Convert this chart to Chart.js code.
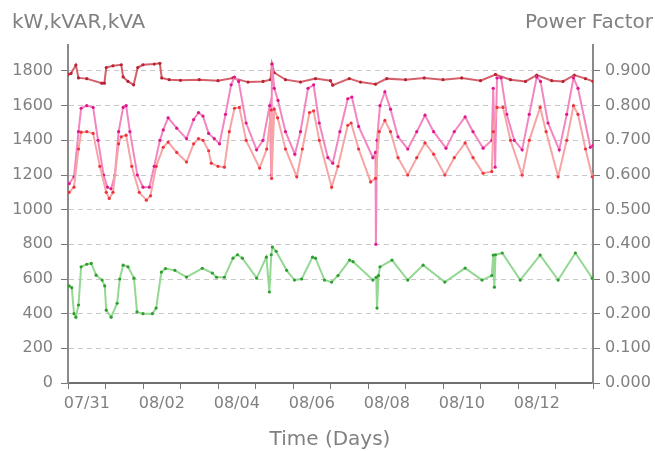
<!DOCTYPE html>
<html>
<head>
<meta charset="utf-8">
<title>Power chart</title>
<script src="https://cdn.jsdelivr.net/npm/chart.js@4/dist/chart.umd.min.js"></script>
<style>
  body { margin: 0; background: #fff; }
  #wrap { position: relative; width: 655px; height: 451px; }
  .ttl {
    position: absolute;
    font-family: "DejaVu Sans", sans-serif;
    font-size: 20px;
    line-height: 20px;
    color: #808080;
    white-space: nowrap;
  }
</style>
</head>
<body>
<div id="wrap">
  <canvas id="powerChart" width="655" height="451"></canvas>
  <div class="ttl" style="left:12px;top:11px">kW,kVAR,kVA</div>
  <div class="ttl" style="right:2px;top:11px">Power Factor</div>
  <div class="ttl" style="left:230px;width:200px;text-align:center;top:428px">Time (Days)</div>
</div>
<script>
"use strict";

// x values are days since 07/31 00:00
let dayLabels = ["07/31", "08/02", "08/04", "08/06", "08/08", "08/10", "08/12"];

let kvaDays = [0.03, 0.16, 0.28, 0.35, 0.5, 0.67, 0.8, 0.95, 1.05, 1.15, 1.25, 1.35, 1.47, 1.55, 1.65, 1.85, 2.0, 2.17, 2.3, 2.45, 2.54, 2.67, 2.9, 3.16, 3.35, 3.48, 3.6, 3.75, 3.9, 4.04, 4.2, 4.35, 4.44, 4.55, 4.75, 5.03, 5.2, 5.38, 5.42, 5.44, 5.5, 5.6, 5.8, 6.05, 6.2, 6.4, 6.55, 6.7, 6.93, 7.06, 7.25, 7.46, 7.57, 7.75, 8.13, 8.2, 8.21, 8.24, 8.32, 8.45, 8.6, 8.8, 9.06, 9.3, 9.52, 9.75, 10.08, 10.3, 10.59, 10.8, 11.07, 11.3, 11.34, 11.39, 11.44, 11.55, 11.7, 11.9, 12.11, 12.3, 12.5, 12.6, 12.8, 13.1, 13.3, 13.48, 13.6, 13.93, 14.0];
let kvaValues = [1150, 1190, 1450, 1585, 1600, 1590, 1400, 1200, 1130, 1120, 1200, 1450, 1590, 1600, 1450, 1200, 1130, 1130, 1250, 1400, 1460, 1530, 1470, 1410, 1520, 1560, 1540, 1440, 1410, 1380, 1550, 1720, 1765, 1740, 1500, 1345, 1400, 1600, 1200, 1840, 1700, 1630, 1450, 1320, 1450, 1700, 1720, 1500, 1300, 1268, 1450, 1640, 1650, 1480, 1300, 1330, 800, 1400, 1600, 1680, 1580, 1420, 1350, 1450, 1545, 1450, 1355, 1450, 1535, 1450, 1355, 1400, 1700, 1245, 1760, 1760, 1550, 1400, 1345, 1550, 1765, 1740, 1500, 1345, 1550, 1760, 1700, 1360, 1370];

let kwDays = [0.03, 0.16, 0.28, 0.35, 0.5, 0.67, 0.85, 1.02, 1.1, 1.2, 1.35, 1.42, 1.55, 1.7, 1.9, 2.09, 2.2, 2.35, 2.54, 2.67, 2.9, 3.16, 3.35, 3.48, 3.6, 3.75, 3.82, 4.0, 4.17, 4.3, 4.44, 4.57, 4.75, 5.11, 5.3, 5.42, 5.43, 5.5, 5.59, 5.8, 6.1, 6.25, 6.44, 6.55, 6.7, 7.03, 7.2, 7.46, 7.55, 7.75, 8.07, 8.2, 8.3, 8.45, 8.6, 8.8, 9.06, 9.3, 9.52, 9.75, 10.05, 10.3, 10.59, 10.8, 11.07, 11.3, 11.34, 11.44, 11.6, 11.8, 12.11, 12.3, 12.59, 12.75, 13.07, 13.3, 13.48, 13.6, 13.8, 13.98];
let kwValues = [1100, 1130, 1350, 1447, 1450, 1440, 1250, 1100, 1065, 1100, 1380, 1420, 1430, 1250, 1100, 1055, 1080, 1250, 1360, 1390, 1330, 1275, 1380, 1410, 1400, 1340, 1268, 1250, 1245, 1450, 1585, 1590, 1400, 1240, 1350, 1575, 1180, 1580, 1530, 1350, 1190, 1350, 1560, 1570, 1400, 1130, 1250, 1487, 1500, 1350, 1160, 1180, 1450, 1515, 1450, 1300, 1200, 1300, 1385, 1320, 1200, 1300, 1385, 1300, 1210, 1220, 1450, 1590, 1590, 1400, 1200, 1400, 1590, 1450, 1190, 1400, 1600, 1550, 1350, 1190];

let kvarDays = [0.03, 0.1, 0.16, 0.21, 0.28, 0.35, 0.5, 0.62, 0.75, 0.91, 0.98, 1.02, 1.15, 1.31, 1.38, 1.47, 1.6, 1.76, 1.84, 2.0, 2.25, 2.35, 2.49, 2.6, 2.85, 3.16, 3.58, 3.85, 3.96, 4.17, 4.4, 4.52, 4.65, 5.03, 5.29, 5.37, 5.42, 5.45, 5.55, 5.83, 6.04, 6.23, 6.52, 6.6, 6.84, 7.03, 7.2, 7.51, 7.6, 8.13, 8.22, 8.24, 8.28, 8.32, 8.64, 9.06, 9.47, 10.05, 10.59, 11.04, 11.3, 11.34, 11.37, 11.4, 11.58, 12.06, 12.59, 13.07, 13.53, 13.98];
let kvarValues = [560, 550, 400, 380, 450, 670, 685, 690, 622, 594, 560, 420, 380, 460, 600, 680, 670, 605, 410, 400, 400, 432, 640, 660, 650, 611, 662, 634, 610, 610, 720, 740, 720, 605, 726, 525, 740, 784, 760, 650, 594, 600, 726, 720, 594, 582, 620, 709, 700, 594, 610, 432, 620, 670, 709, 594, 680, 582, 663, 594, 620, 738, 553, 740, 750, 594, 738, 594, 750, 605];

let pfDays = [0.0, 0.08, 0.21, 0.28, 0.5, 0.9, 0.97, 1.02, 1.2, 1.42, 1.47, 1.6, 1.75, 1.86, 2.0, 2.3, 2.45, 2.5, 2.7, 3.0, 3.5, 4.0, 4.4, 4.8, 5.2, 5.4, 5.44, 5.5, 5.8, 6.2, 6.6, 7.0, 7.06, 7.5, 7.8, 8.2, 8.5, 9.0, 9.5, 10.0, 10.5, 11.0, 11.4, 11.8, 12.2, 12.5, 12.9, 13.2, 13.5, 13.8, 14.0];
let pfValues = [0.89, 0.893, 0.917, 0.88, 0.878, 0.865, 0.865, 0.91, 0.915, 0.918, 0.883, 0.87, 0.86, 0.91, 0.918, 0.92, 0.922, 0.88, 0.875, 0.873, 0.875, 0.872, 0.88, 0.868, 0.87, 0.875, 0.92, 0.895, 0.875, 0.868, 0.878, 0.872, 0.859, 0.878, 0.868, 0.862, 0.878, 0.875, 0.88, 0.875, 0.88, 0.872, 0.89, 0.875, 0.87, 0.888, 0.872, 0.87, 0.888, 0.878, 0.87];

window.addEventListener("load", drawChart);

function toPoints(days, values) {
  return days.map((d, i) => ({ x: d, y: values[i] }));
}

function series(label, days, values, lineColor, dotColor, axis) {
  return {
    label: label,
    data: toPoints(days, values),
    yAxisID: axis,
    borderColor: lineColor,
    borderWidth: 2,
    pointRadius: 1.6,
    pointBorderWidth: 0,
    pointBackgroundColor: dotColor,
    tension: 0
  };
}

function drawChart() {
  Chart.defaults.font.family = "DejaVu Sans";
  Chart.defaults.font.size = 16;
  Chart.defaults.color = "#808080";

  new Chart(document.getElementById("powerChart"), {
    type: "line",
    data: {
      datasets: [
        series("kVAR", kvarDays, kvarValues, "#94d894", "#2e9e2e", "y"),
        series("kW", kwDays, kwValues, "#f7a4a4", "#f0323c", "y"),
        series("kVA", kvaDays, kvaValues, "#f386c0", "#e0168c", "y"),
        series("Power Factor", pfDays, pfValues, "#d4606c", "#b82232", "y2")
      ]
    },
    options: {
      responsive: false,
      animation: false,
      layout: { padding: { top: 45, left: 0, right: 0, bottom: 0 } },
      plugins: { legend: { display: false }, tooltip: { enabled: false } },
      scales: {
        x: {
          type: "linear",
          min: 0,
          max: 14,
          afterFit: s => { s.height = 68; },
          ticks: {
            stepSize: 0.5,
            autoSkip: false,
            maxRotation: 0,
            padding: 5,
            callback: v => ((v - 0.5) % 2 === 0 ? dayLabels[(v - 0.5) / 2] : "")
          },
          grid: {
            drawOnChartArea: false,
            tickLength: 6,
            tickColor: c => (Number.isInteger(c.tick.value) ? "#777" : "rgba(0,0,0,0)")
          },
          border: { color: "#707070", width: 2 }
        },
        y: {
          position: "left",
          min: 0,
          max: 1950,
          afterFit: s => { s.width = 68; },
          ticks: { stepSize: 200, includeBounds: false, padding: 8, callback: v => String(v) },
          grid: { color: "#c8c8c8", tickColor: "#777", tickLength: 7 },
          border: { color: "#8a8a8a", width: 2, dash: [5, 4] }
        },
        y2: {
          position: "right",
          min: 0,
          max: 0.975,
          afterFit: s => { s.width = 62; },
          ticks: {
            stepSize: 0.1,
            includeBounds: false,
            padding: 5,
            callback: v => v.toFixed(3)
          },
          grid: { drawOnChartArea: false, tickColor: "#777", tickLength: 7 },
          border: { color: "#8a8a8a", width: 2 }
        }
      }
    }
  });
}
</script>
</body>
</html>
